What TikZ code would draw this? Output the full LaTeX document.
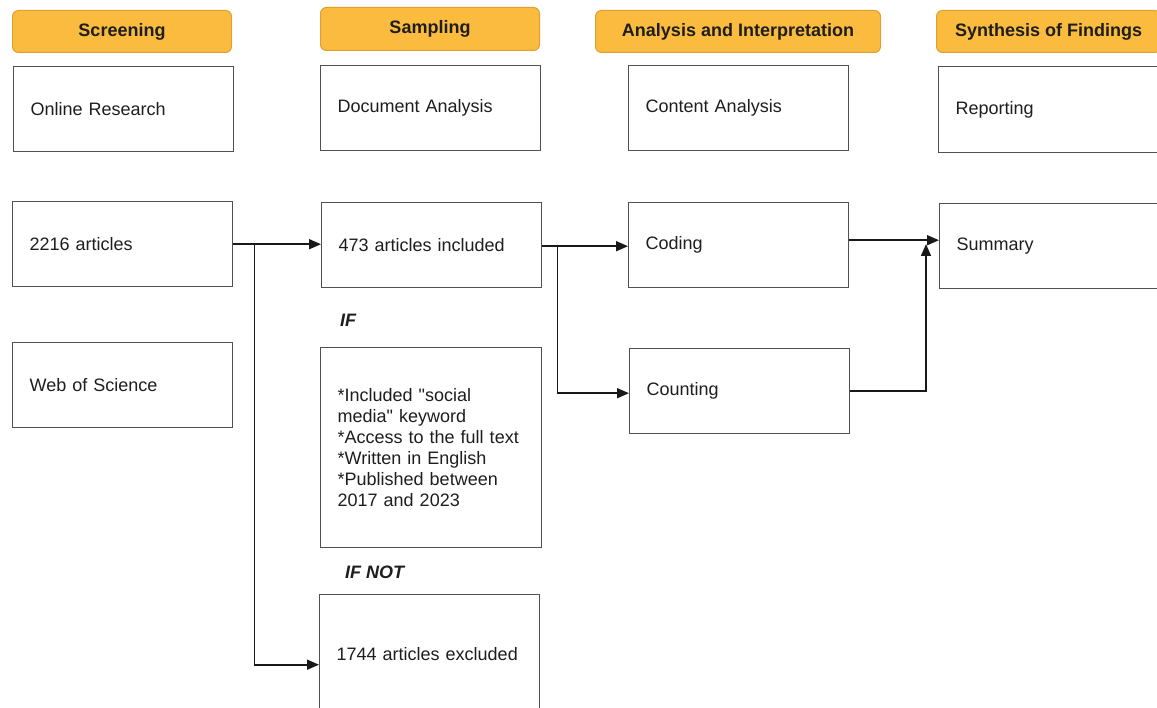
\documentclass[tikz,border=0pt]{standalone}
\usepackage{fontspec}
\setmainfont{Liberation Sans}[Ligatures=TeXOff]
\usetikzlibrary{arrows.meta,calc}
\definecolor{hdfill}{RGB}{251,187,62}
\definecolor{hdborder}{RGB}{222,160,52}
\definecolor{boxgray}{RGB}{80,80,80}
\definecolor{txt}{RGB}{30,30,30}
\definecolor{linec}{RGB}{25,25,25}
\begin{document}
\begin{tikzpicture}[x=1pt,y=1pt,
  head/.style={rounded corners=6pt, draw=hdborder, line width=1pt, fill=hdfill,
    minimum height=42pt, inner sep=0pt, anchor=north west, text=txt,
    font=\fontsize{18}{21}\selectfont\bfseries},
  box/.style={draw=boxgray, line width=1.4pt, fill=white, minimum height=85pt,
    text width=186pt, inner xsep=17pt, inner ysep=0pt, align=left,
    anchor=north west, text=txt, font=\fontsize{18}{21}\selectfont},
  lbl/.style={anchor=west, inner sep=0pt, text=txt, font=\fontsize{18}{21}\selectfont\bfseries\itshape},
  arr/.style={draw=linec, line width=1.6pt, -{Triangle[length=12pt,width=10pt]}},
  ln/.style={draw=linec, line width=1.6pt}
]
\useasboundingbox (0,0) rectangle (1157,-708);
% headers
\node[head, minimum width=219pt] (h1) at (12,-10) {Screening};
\node[head, minimum width=219pt, minimum height=43pt] (h2) at (320,-7) {Sampling};
\node[head, minimum width=285pt] (h3) at (595,-10) {Analysis and Interpretation};
\node[head, minimum width=224pt] (h4) at (936,-10) {Synthesis of Findings};
% row 1
\node[box] (onl) at (13,-66) {Online Research};
\node[box] (doc) at (320,-65) {Document Analysis};
\node[box] (con) at (628,-65) {Content Analysis};
\node[box, minimum height=86pt, text width=196pt] (rep) at (938,-66) {Reporting};
% row 2
\node[box] (a2216) at (12,-201) {2216 articles};
\node[box] (a473) at (321,-202) {473 articles included};
\node[box] (coding) at (628,-202) {Coding};
\node[box, text width=196pt] (summary) at (939,-203) {Summary};
% row 3
\node[box] (wos) at (12,-342) {Web of Science};
\node[box, minimum height=200pt, text width=187pt] (crit) at (320,-347)
  {*Included "social\\media" keyword\\{}*Access to the full text\\{}*Written in English\\{}*Published between\\2017 and 2023};
\node[box] (counting) at (629,-348) {Counting};
\node[box, minimum height=118pt] (excl) at (319,-594) {1744 articles excluded};
% labels
\node[lbl] (if) at (340,-320) {IF};
\node[lbl] (ifnot) at (345,-572) {IF NOT};
% connectors
\coordinate (j1) at ($(a2216.east)+(21,0)$);
\coordinate (j2) at ($(a473.east)+(15,-1)$);
\draw[arr] (a2216.east) -- (a2216.east -| a473.west);
\draw[arr] (j1) |- ([yshift=-11pt]excl.west);
\draw[arr] ([yshift=-1pt]a473.east) -- ([yshift=-1pt]a473.east -| coding.west);
\draw[arr] (j2) |- ([yshift=-2pt]counting.west);
\draw[arr] ([yshift=5pt]coding.east) -- ([yshift=5pt]coding.east -| summary.west);
\coordinate (k) at (926,-390);
\draw[arr] (counting.east) -| ($(k)+(0,146)$);
\end{tikzpicture}
\end{document}
